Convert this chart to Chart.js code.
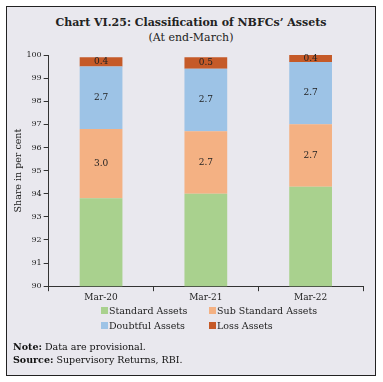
<!DOCTYPE html>
<html><head><meta charset="utf-8">
<script src="https://cdn.jsdelivr.net/npm/chart.js@4"></script>
<style>
html,body{margin:0;padding:0;background:#fff;width:383px;height:382px;overflow:hidden;}
#frame{position:absolute;left:6px;top:6px;width:370px;height:370px;box-sizing:border-box;border:1.5px solid #222;background:#e9e8ee;}
#title{position:absolute;left:6px;width:370px;top:15px;text-align:center;font:bold 11px "DejaVu Serif",serif;color:#222;line-height:16px;}
#subtitle{position:absolute;left:6px;width:370px;top:30px;text-align:center;font:11px "DejaVu Serif",serif;color:#222;line-height:16px;}
#c{position:absolute;left:0;top:0;}
.lg{position:absolute;font:9.5px "DejaVu Serif",serif;color:#222;line-height:12px;white-space:nowrap;}
.lg i{display:inline-block;width:7px;height:7px;margin-right:1px;vertical-align:0px;}
.note{position:absolute;left:13px;font:9.5px "DejaVu Serif",serif;color:#111;line-height:12px;white-space:nowrap;}
</style></head>
<body>
<div id="frame"></div>
<div id="title">Chart VI.25: Classification of NBFCs’ Assets</div>
<div id="subtitle">(At end-March)</div>
<canvas id="c" width="383" height="382"></canvas>
<div id="legend"></div>
<div class="note" style="top:341px"><b>Note:</b> Data are provisional.</div>
<div class="note" style="top:354px"><b>Source:</b> Supervisory Returns, RBI.</div>
<script>
const categories = ['Mar-20','Mar-21','Mar-22'];
const standardAssets = [93.8, 94.0, 94.3];
const subStandardAssets = [3.0, 2.7, 2.7];
const doubtfulAssets = [2.7, 2.7, 2.7];
const lossAssets = [0.4, 0.5, 0.4];
const seriesNames = ['Standard Assets','Sub Standard Assets','Doubtful Assets','Loss Assets'];
const seriesColors = ['#a9d18e','#f4b183','#9dc3e6','#c55a28'];
const yTicks = {min:90, max:100, step:1};

const seriesData = [standardAssets, subStandardAssets, doubtfulAssets, lossAssets];
const FONT = '"DejaVu Serif", serif';

const labelPlugin = {
  id:'segLabels',
  afterDatasetsDraw(chart){
    const ctx = chart.ctx;
    ctx.save();
    ctx.font = '9px ' + FONT;
    ctx.fillStyle = '#222';
    ctx.textAlign = 'center';
    ctx.textBaseline = 'middle';
    chart.data.datasets.forEach((ds,i)=>{
      const meta = chart.getDatasetMeta(i);
      meta.data.forEach((bar,j)=>{
        const p = bar.getProps(['x','y','base'], true);
        const top = Math.max(Math.min(p.y,p.base), chart.chartArea.top);
        const bot = Math.max(p.y,p.base);
        ctx.fillText(ds.data[j].toFixed(1), p.x, (top+bot)/2);
      });
    });
    ctx.restore();
  }
};

new Chart(document.getElementById('c'), {
  type:'bar',
  data:{
    labels:categories,
    datasets: seriesNames.map((n,i)=>({
      label:n, data:seriesData[i], backgroundColor:seriesColors[i],
      borderWidth:0, categoryPercentage:0.8, barPercentage:0.51
    }))
  },
  options:{
    responsive:false, animation:false,
    layout:{padding:{left:0,right:20,top:55,bottom:78}},
    plugins:{legend:{display:false}, tooltip:{enabled:false}, title:{display:false}},
    scales:{
      x:{stacked:true,
        grid:{display:true, drawOnChartArea:false, drawTicks:true, tickLength:5, color:'#333', offset:true},
        border:{display:true,color:'#333',width:1},
        ticks:{color:'#222', font:{family:FONT, size:9}, padding:1}
      },
      y:{stacked:true, min:yTicks.min, max:yTicks.max,
        grid:{display:true, drawOnChartArea:false, drawTicks:true, tickLength:5, color:'#333'},
        border:{display:true,color:'#333',width:1},
        ticks:{stepSize:yTicks.step, color:'#222', font:{family:FONT, size:8}, padding:2},
        title:{display:true, text:'Share in per cent', color:'#222', font:{family:FONT, size:9.5}, padding:{top:13,bottom:0}}
      }
    }
  },
  plugins:[labelPlugin]
});

// legend from series names/colours
const lg = document.getElementById('legend');
const lpos = [[101,305],[209,305],[101,320],[209,320]];
seriesNames.forEach((n,i)=>{
  const d = document.createElement('div');
  d.className='lg';
  d.style.left = lpos[i][0]+'px';
  d.style.top = lpos[i][1]+'px';
  d.innerHTML = '<i style="background:'+seriesColors[i]+'"></i>'+n;
  lg.appendChild(d);
});
</script>
</body></html>
